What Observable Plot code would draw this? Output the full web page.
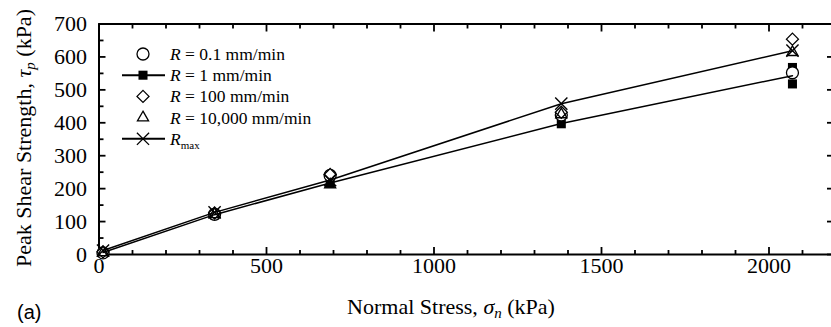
<!DOCTYPE html>
<html><head><meta charset="utf-8">
<script src="https://cdn.jsdelivr.net/npm/d3@7"></script>
<script src="https://cdn.jsdelivr.net/npm/@observablehq/plot@0.6"></script>
<style>
html,body{margin:0;padding:0;background:#fff;}
#chart{position:relative;width:831px;height:327px;overflow:hidden;}
#overlay{position:absolute;left:0;top:0;pointer-events:none;}
.lbl{position:absolute;white-space:nowrap;color:#000;}
.serif{font-family:"Liberation Serif","Times New Roman",serif;font-size:22px;line-height:22px;}
.sub{font-size:15px;font-style:italic;position:relative;top:4px;}
</style></head><body>
<div id="chart">
  <div class="lbl serif" id="xtitle" style="left:451px;top:295.6px;transform:translateX(-50%);">Normal Stress, <i>σ</i><span class="sub">n</span> (kPa)</div>
  <div class="lbl serif" id="ytitle" style="left:-136.4px;top:127px;width:320px;height:22px;text-align:center;transform:rotate(-90deg);">Peak Shear Strength, <i>τ</i><span class="sub">p</span> (kPa)</div>
  <div class="lbl" style="left:17px;top:302px;font-family:'Liberation Sans',Arial,sans-serif;font-size:20px;line-height:20px;">(a)</div>
</div>
<pre id="dbg" style="font-size:9px;position:absolute;left:300px;top:340px;margin:0;"></pre>
<script>
const errs = [];
window.onerror = (m) => { errs.push(String(m)); };
// ---- data ----
const sigma = [12, 345, 690, 1380, 2070];            // normal stress, kPa
const r01 = [5, 122, 240, 424, 552];                  // R = 0.1 mm/min
const r1 = [5, 120, 216, 397, 568];                   // R = 1 mm/min
const r1ExtraSigma = [2070];                          // repeated test
const r1Extra = [518];
const r1Line = [6, 121, 217, 398, 543];               // line through R = 1 mm/min
const r100 = [8, 126, 243, 432, 654];                 // R = 100 mm/min
const r10000 = [6, 122, 212, 425, 614];               // R = 10,000 mm/min
const rmax = [12, 128, 226, 458, 619];                // R_max (with line)
const xMajor = [0, 500, 1000, 1500, 2000];
const xMinor = [100, 200, 300, 400, 600, 700, 800, 900, 1100, 1200, 1300, 1400, 1600, 1700, 1800, 1900, 2100];
const yMajor = [0, 100, 200, 300, 400, 500, 600, 700];
const yMinor = [50, 150, 250, 350, 450, 550, 650];
const legendRows = [
  {sym: "circle", line: false, pre: "R", post: " = 0.1 mm/min"},
  {sym: "square", line: true,  pre: "R", post: " = 1 mm/min"},
  {sym: "diamond", line: false, pre: "R", post: " = 100 mm/min"},
  {sym: "triangle", line: false, pre: "R", post: " = 10,000 mm/min"},
  {sym: "times", line: true,  pre: "R", sub: "max"}
];

try {
  const pts = (ys, xs = sigma) => ys.map((y, i) => ({x: xs[i], y}));
  const serif = "Liberation Serif";
  const K = "#000";
  const FW = 732.5;  // frame width inside the picture
  const FH = 230.5;  // frame height

  const plot = Plot.plot({
    width: 831, height: 327,
    marginLeft: 98.5, marginRight: 0, marginTop: 23.5, marginBottom: 73,
    x: {domain: [0, 2200], range: [98.5, 835.5]},
    y: {domain: [0, 700], range: [254, 23.5]},
    style: {fontFamily: serif, fontSize: "22px", color: K, background: "#fff", overflow: "hidden"},
    marks: [
      Plot.axisX(xMajor, {anchor: "bottom", tickSize: 0, tickPadding: 3, label: null, fontSize: 22, fontFamily: serif, fill: K, tickFormat: d => String(d)}),
      Plot.axisY(yMajor, {anchor: "left", tickSize: 0, tickPadding: 12, label: null, fontSize: 22, fontFamily: serif, fill: K, tickFormat: d => String(d)}),
      Plot.tickX(xMajor, {x: d => d, insetTop: FH - 7, stroke: K, strokeWidth: 1.8}),
      Plot.tickX(xMinor, {x: d => d, insetTop: FH - 4, stroke: K, strokeWidth: 1.8}),
      Plot.tickX(xMajor, {x: d => d, insetBottom: FH - 8, stroke: K, strokeWidth: 1.8}),
      Plot.tickX(xMinor, {x: d => d, insetBottom: FH - 5, stroke: K, strokeWidth: 1.8}),
      Plot.tickY(yMajor, {y: d => d, insetRight: FW - 7, stroke: K, strokeWidth: 1.8}),
      Plot.tickY(yMinor, {y: d => d, insetRight: FW - 5, stroke: K, strokeWidth: 1.8}),
      Plot.tickY(yMajor, {y: d => d, insetLeft: FW - 4, stroke: K, strokeWidth: 1.8}),
      Plot.ruleY([0, 700], {stroke: K, strokeWidth: 2}),
      Plot.ruleX([0], {stroke: K, strokeWidth: 2}),
      Plot.dot([...pts(r1), ...pts(r1Extra, r1ExtraSigma)], {x: "x", y: "y", symbol: "square", r: 5.1, fill: K, stroke: "none"}),
      Plot.dot(pts(r01), {x: "x", y: "y", symbol: "circle", r: 6, fill: "#fff", stroke: K, strokeWidth: 1.3}),
      Plot.dot(pts(r100), {x: "x", y: "y", symbol: "diamond2", r: 5.4, fill: "#fff", stroke: K, strokeWidth: 1.3}),
      Plot.dot(pts(r10000), {x: "x", y: "y", symbol: "triangle2", r: 5.3, fill: "none", stroke: K, strokeWidth: 1.3}),
      Plot.dot(pts(rmax), {x: "x", y: "y", symbol: "times", r: 5.6, fill: "none", stroke: K, strokeWidth: 1.4}),
      Plot.line(pts(r1Line), {x: "x", y: "y", stroke: K, strokeWidth: 1.5}),
      Plot.line(pts(rmax), {x: "x", y: "y", stroke: K, strokeWidth: 1.5})
    ]
  });

  const chart = document.getElementById("chart");
  chart.insertBefore(plot, chart.firstChild);

  const ov = d3.select(chart).append("svg").attr("id", "overlay").attr("width", 831).attr("height", 327);
  const symMap = {circle: d3.symbolCircle, square: d3.symbolSquare, diamond: d3.symbolDiamond2, triangle: d3.symbolTriangle2, times: d3.symbolTimes};
  const sizeMap = {circle: Math.PI * 36, square: Math.PI * 5.1 * 5.1, diamond: Math.PI * 5.4 * 5.4, triangle: Math.PI * 5.3 * 5.3, times: Math.PI * 5.6 * 5.6};
  legendRows.forEach((row, i) => {
    const cy = 54 + i * 21.2;
    const g = ov.append("g");
    if (row.line) g.append("line").attr("x1", 122).attr("x2", 165).attr("y1", cy).attr("y2", cy).attr("stroke", K).attr("stroke-width", 2);
    const filled = row.sym === "square";
    g.append("path").attr("transform", `translate(143,${cy})`)
      .attr("d", d3.symbol(symMap[row.sym], sizeMap[row.sym])())
      .attr("fill", filled ? K : (row.line ? "none" : "#fff"))
      .attr("stroke", filled ? "none" : K).attr("stroke-width", 1.3);
    const t = g.append("text").attr("x", 170).attr("y", cy + 6).attr("text-anchor", "start")
      .attr("font-family", serif).attr("font-size", 17.5).attr("fill", K);
    t.append("tspan").attr("font-style", "italic").text(row.pre);
    if (row.sub) t.append("tspan").attr("font-size", 11).attr("dy", 4).text(row.sub);
    else t.append("tspan").text(row.post);
  });
  const n = plot.querySelectorAll("g[aria-label='tick'] line").length;
  document.getElementById("dbg").textContent = "ticks " + n + (errs.length ? " " + errs.join(";") : "");
} catch (e) {
  document.getElementById("dbg").textContent = "ERR " + e;
}
</script>
</body></html>
